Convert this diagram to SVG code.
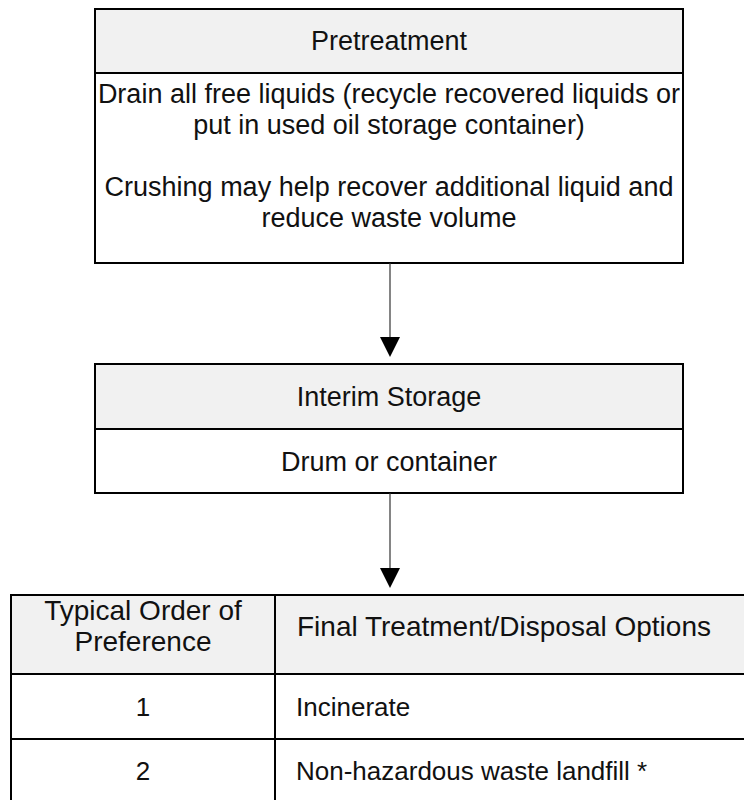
<svg xmlns="http://www.w3.org/2000/svg" width="744" height="800" viewBox="0 0 744 800">
  <style>
    .box { fill: #ffffff; stroke: #000000; stroke-width: 2; }
    .head { fill: #f1f1f1; stroke: #000000; stroke-width: 2; }
    .rule { stroke: #000000; stroke-width: 2; fill: none; }
    .lbl { font-family: "Liberation Sans", Arial, sans-serif; font-size: 27px; fill: #111111; }
    .th { font-size: 28px; }
    .td { font-size: 26px; }
    .c { text-anchor: middle; }
    .link { stroke: #333333; stroke-width: 1.2; fill: none; }
    .tip { fill: #000000; }
  </style>

  <rect width="744" height="800" fill="#ffffff"/>

  <!-- Pretreatment -->
  <g id="pretreatment">
    <rect class="box" x="95" y="9" width="588" height="254"/>
    <rect class="head" x="95" y="9" width="588" height="64"/>
    <text class="lbl c" x="389" y="50">Pretreatment</text>
    <text class="lbl c" x="389" y="103">Drain all free liquids (recycle recovered liquids or</text>
    <text class="lbl c" x="389" y="134">put in used oil storage container)</text>
    <text class="lbl c" x="389" y="196">Crushing may help recover additional liquid and</text>
    <text class="lbl c" x="389" y="227">reduce waste volume</text>
  </g>

  <!-- Interim storage -->
  <g id="interim-storage">
    <rect class="box" x="95" y="364" width="588" height="129"/>
    <rect class="head" x="95" y="364" width="588" height="65"/>
    <text class="lbl c" x="389" y="406">Interim Storage</text>
    <text class="lbl c" x="389" y="471">Drum or container</text>
  </g>

  <!-- Final treatment / disposal table -->
  <g id="disposal-options">
    <rect class="box" x="11" y="595" width="756" height="209"/>
    <rect class="head" x="11" y="595" width="756" height="79"/>
    <line class="rule" x1="275" y1="595" x2="275" y2="804"/>
    <line class="rule" x1="11" y1="739" x2="767" y2="739"/>
    <text class="lbl th c" x="143" y="620">Typical Order of</text>
    <text class="lbl th c" x="143" y="651">Preference</text>
    <text class="lbl th c" x="504" y="636">Final Treatment/Disposal Options</text>
    <text class="lbl td c" x="143" y="716">1</text>
    <text class="lbl td" x="296" y="716">Incinerate</text>
    <text class="lbl td c" x="143" y="780">2</text>
    <text class="lbl td" x="296" y="780">Non-hazardous waste landfill *</text>
  </g>

  <!-- Connectors -->
  <g id="connectors">
    <line class="link" x1="390" y1="263" x2="390" y2="338"/>
    <polygon class="tip" points="380,337 400,337 390,357"/>
    <line class="link" x1="390" y1="493" x2="390" y2="569"/>
    <polygon class="tip" points="380,568 400,568 390,588"/>
  </g>
</svg>
